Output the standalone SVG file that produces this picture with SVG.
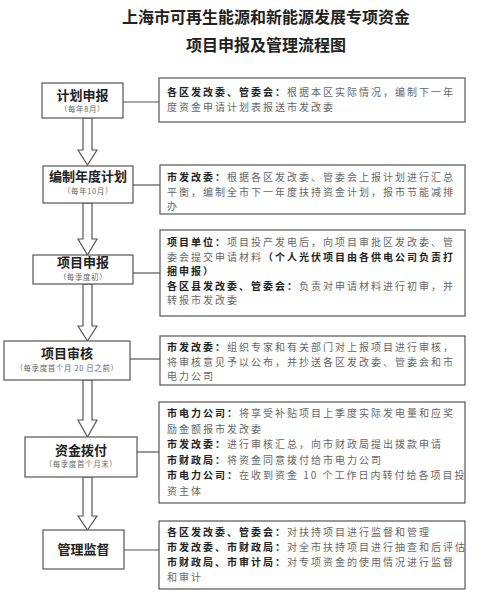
<svg xmlns="http://www.w3.org/2000/svg" width="495" height="600" viewBox="0 0 495 600">
<style>
.bg{fill:#ffffff}
.box{fill:#ffffff;stroke:#555555;stroke-width:1.2}
.title{font-family:"Noto Sans CJK SC","Noto Sans",sans-serif;font-size:16px;font-weight:bold;fill:#222222;text-anchor:middle}
.main{font-family:"Noto Sans CJK SC","Noto Sans",sans-serif;font-size:13px;font-weight:bold;fill:#222222;text-anchor:middle}
.sub{font-family:"Noto Sans CJK SC","Noto Sans",sans-serif;font-size:7.5px;fill:#666666;text-anchor:middle;letter-spacing:0.6px}
.desc{font-family:"Noto Sans CJK SC","Noto Sans",sans-serif;font-size:10px;fill:#666666;letter-spacing:2px}
.b{font-weight:bold;fill:#222222}
.line{stroke:#555555;stroke-width:1.2;fill:none}
.arrow{fill:#ffffff;stroke:#555555;stroke-width:1.2;stroke-linejoin:miter}
</style>
<rect class="bg" x="0" y="0" width="495" height="600"/>
<g id="title">
<text class="title" x="266" y="23">上海市可再生能源和新能源发展专项资金</text>
<text class="title" x="266" y="51">项目申报及管理流程图</text>
</g>
<g id="connectors">
<line class="line" x1="123" y1="102" x2="159" y2="102"/>
<line class="line" x1="133" y1="185" x2="160" y2="185"/>
<line class="line" x1="133" y1="273" x2="160" y2="273"/>
<line class="line" x1="130" y1="359" x2="160" y2="359"/>
<line class="line" x1="137" y1="452" x2="159" y2="452"/>
<line class="line" x1="124" y1="550" x2="159" y2="550"/>
<path class="arrow" d="M83,118 L83,150 L78,150 L87.5,165 L97,150 L92,150 L92,118 Z"/>
<path class="arrow" d="M83,203 L83,239 L78,239 L87.5,255 L97,239 L92,239 L92,203 Z"/>
<path class="arrow" d="M83,284 L83,326 L78,326 L87.5,341 L97,326 L92,326 L92,284 Z"/>
<path class="arrow" d="M83,380 L83,420 L78,420 L87.5,437 L97,420 L92,420 L92,380 Z"/>
<path class="arrow" d="M83,477 L83,516 L78,516 L87.5,530 L97,516 L92,516 L92,477 Z"/>
</g>
<g id="node-jihua">
<rect class="box" x="42" y="83" width="81" height="35"/>
<text class="main" x="82.5" y="100">计划申报</text>
<text class="sub" x="82.5" y="112">（每年8月）</text>
</g>
<g id="desc-jihua">
<rect class="box" x="159" y="78" width="306" height="44"/>
<text class="desc" x="167" y="96"><tspan class="b">各区发改委、管委会：</tspan>根据本区实际情况，编制下一年</text>
<text class="desc" x="167" y="111">度资金申请计划表报送市发改委</text>
</g>
<g id="node-bianzhi">
<rect class="box" x="43" y="166" width="90" height="37"/>
<text class="main" x="88" y="181">编制年度计划</text>
<text class="sub" x="88" y="194">（每年10月）</text>
</g>
<g id="desc-bianzhi">
<rect class="box" x="160" y="165" width="305" height="49"/>
<text class="desc" x="167" y="181"><tspan class="b">市发改委：</tspan>根据各区发改委、管委会上报计划进行汇总</text>
<text class="desc" x="167" y="195.5">平衡，编制全市下一年度扶持资金计划，报市节能减排</text>
<text class="desc" x="167" y="210">办</text>
</g>
<g id="node-xiangmu">
<rect class="box" x="33" y="255" width="100" height="29"/>
<text class="main" x="83" y="267">项目申报</text>
<text class="sub" x="83" y="280">（每季度初）</text>
</g>
<g id="desc-xiangmu">
<rect class="box" x="160" y="230" width="305" height="86"/>
<text class="desc" x="167" y="246"><tspan class="b">项目单位：</tspan>项目投产发电后，向项目审批区发改委、管</text>
<text class="desc" x="167" y="260.5">委会提交申请材料<tspan class="b">（个人光伏项目由各供电公司负责打</tspan></text>
<text class="desc" x="167" y="275"><tspan class="b">捆申报）</tspan></text>
<text class="desc" x="167" y="289.5"><tspan class="b">各区县发改委、管委会：</tspan>负责对申请材料进行初审，并</text>
<text class="desc" x="167" y="304">转报市发改委</text>
</g>
<g id="node-shenhe">
<rect class="box" x="4" y="341" width="126" height="39"/>
<text class="main" x="67" y="358">项目审核</text>
<text class="sub" x="67" y="371">（每季度首个月 20 日之前）</text>
</g>
<g id="desc-shenhe">
<rect class="box" x="160" y="336" width="305" height="49"/>
<text class="desc" x="167" y="351"><tspan class="b">市发改委：</tspan>组织专家和有关部门对上报项目进行审核，</text>
<text class="desc" x="167" y="365.5">将审核意见予以公布，并抄送各区发改委、管委会和市</text>
<text class="desc" x="167" y="380">电力公司</text>
</g>
<g id="node-bofu">
<rect class="box" x="25" y="437" width="112" height="40"/>
<text class="main" x="81" y="455">资金拨付</text>
<text class="sub" x="81" y="467">（每季度首个月末）</text>
</g>
<g id="desc-bofu">
<rect class="box" x="159" y="402" width="306" height="101"/>
<text class="desc" x="167" y="417"><tspan class="b">市电力公司：</tspan>将享受补贴项目上季度实际发电量和应奖</text>
<text class="desc" x="167" y="432.5">励金额报市发改委</text>
<text class="desc" x="167" y="448"><tspan class="b">市发改委：</tspan>进行审核汇总，向市财政局提出拨款申请</text>
<text class="desc" x="167" y="463.5"><tspan class="b">市财政局：</tspan>将资金同意拨付给市电力公司</text>
<text class="desc" x="167" y="479"><tspan class="b">市电力公司：</tspan>在收到资金 10 个工作日内转付给各项目投</text>
<text class="desc" x="167" y="494.5">资主体</text>
</g>
<g id="node-jiandu">
<rect class="box" x="43" y="530" width="81" height="39"/>
<text class="main" x="83.5" y="554">管理监督</text>
</g>
<g id="desc-jiandu">
<rect class="box" x="159" y="521" width="306" height="68"/>
<text class="desc" x="167" y="536"><tspan class="b">各区发改委、管委会：</tspan>对扶持项目进行监督和管理</text>
<text class="desc" x="167" y="551"><tspan class="b">市发改委、市财政局：</tspan>对全市扶持项目进行抽查和后评估</text>
<text class="desc" x="167" y="566"><tspan class="b">市财政局、市审计局：</tspan>对专项资金的使用情况进行监督</text>
<text class="desc" x="167" y="581">和审计</text>
</g>
</svg>
